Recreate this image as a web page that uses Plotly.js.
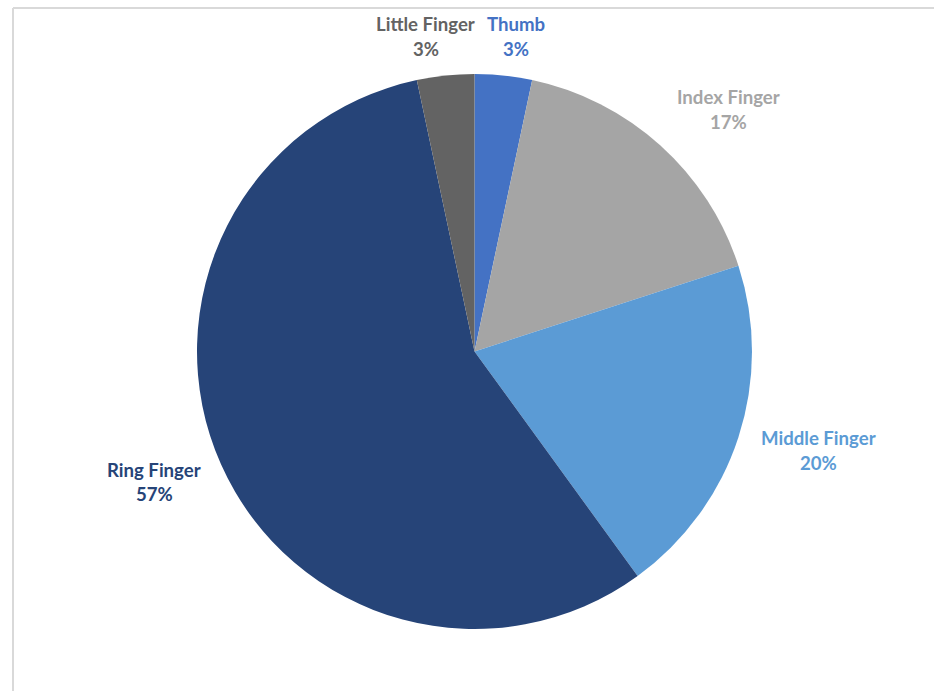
<!DOCTYPE html>
<html>
<head>
<meta charset="utf-8">
<script src="https://cdn.plot.ly/plotly-3.0.1.min.js"></script>
<style>html,body{margin:0;padding:0;background:#fff;}#chart{width:934px;height:691px;}</style>
</head>
<body>
<div id="chart"></div>
<script>
// Data
const fingers = ["Thumb", "Index Finger", "Middle Finger", "Ring Finger", "Little Finger"];
const counts = [1, 5, 6, 17, 1];
const sliceColors = ["#4472C4", "#A5A5A5", "#5B9BD5", "#264478", "#636363"];

// Layout: label centres in pixels (text placement only)
const labelPx = [[515.5, 24.5], [728.5, 97], [818, 438], [154, 470], [425.5, 24.5]];
const W = 934, H = 691, lineGap = 24.5;

const total = counts.reduce((a, b) => a + b, 0);
const annotations = [];
fingers.forEach((f, i) => {
  const pct = Math.round(counts[i] / total * 100) + "%";
  const [px, py] = labelPx[i];
  [[f, py], [pct, py + lineGap]].forEach(([t, yy]) => {
    annotations.push({
      text: t, showarrow: false, xref: "paper", yref: "paper",
      x: px / W, y: 1 - yy / H, xanchor: "center", yanchor: "middle",
      font: {family: "Lato, 'Open Sans', sans-serif", size: 18.6, color: sliceColors[i], weight: 700}
    });
  });
});

const trace = {
  type: "pie",
  labels: fingers,
  values: counts,
  sort: false,
  direction: "clockwise",
  rotation: 0,
  textinfo: "none",
  hoverinfo: "label+percent",
  marker: {colors: sliceColors, line: {width: 0}},
  domain: {x: [197 / W, 752 / W], y: [1 - 629 / H, 1 - 74 / H]},
  showlegend: false
};

const layout = {
  width: W, height: H,
  margin: {l: 0, r: 0, t: 0, b: 0},
  paper_bgcolor: "#ffffff",
  showlegend: false,
  annotations: annotations,
  shapes: [
    {type: "line", xref: "paper", yref: "paper", x0: 13 / W, x1: 1, y0: 1 - 8 / H, y1: 1 - 8 / H, line: {color: "#d9d9d9", width: 2}},
    {type: "line", xref: "paper", yref: "paper", x0: 13 / W, x1: 13 / W, y0: 0, y1: 1 - 8 / H, line: {color: "#d9d9d9", width: 2}}
  ]
};

Plotly.newPlot("chart", [trace], layout, {displayModeBar: false, staticPlot: true});
</script>
</body>
</html>
